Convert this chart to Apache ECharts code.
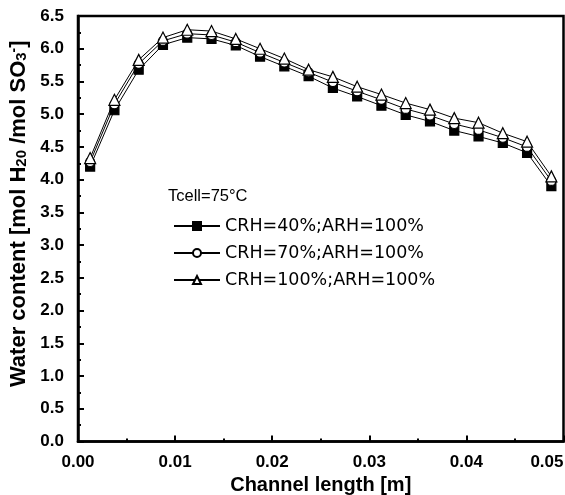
<!DOCTYPE html>
<html>
<head>
<meta charset="utf-8">
<script src="https://cdn.jsdelivr.net/npm/echarts@6/dist/echarts.min.js"></script>
<style>html,body{margin:0;padding:0;background:#fff}#c{width:565px;height:495px}</style>
</head>
<body>
<div id="c"></div>
<script>
const xValues = [0.00125,0.00375,0.00625,0.00875,0.01125,0.01375,0.01625,0.01875,0.02125,0.02375,0.02625,0.02875,0.03125,0.03375,0.03625,0.03875,0.04125,0.04375,0.04625,0.04875];
const crh40 = [4.20,5.06,5.68,6.06,6.17,6.15,6.05,5.88,5.73,5.58,5.40,5.27,5.13,4.99,4.89,4.75,4.66,4.56,4.41,3.90];
const crh70 = [4.27,5.15,5.77,6.12,6.23,6.21,6.10,5.94,5.79,5.64,5.49,5.35,5.22,5.08,4.98,4.85,4.76,4.64,4.50,3.98];
const crh100 = [4.33,5.22,5.83,6.17,6.29,6.27,6.15,6.00,5.85,5.68,5.57,5.42,5.30,5.17,5.07,4.94,4.87,4.71,4.58,4.05];
const seriesNames = ['CRH=40%;ARH=100%','CRH=70%;ARH=100%','CRH=100%;ARH=100%'];
const annotation = 'Tcell=75°C';

const chart = echarts.init(document.getElementById('c'), null, {renderer:'canvas'});
const font = 'Arial, "Liberation Sans", sans-serif';
const font2 = '"DejaVu Sans", sans-serif';
function pts(arr){ return xValues.map((x,i)=>[x,arr[i]]); }
function mk(name, data, symbol, fill, size){
  return {name:name, type:'line', data:pts(data), symbol:symbol, symbolSize:size,
    lineStyle:{color:'#000', width:1}, itemStyle:{color:fill, borderColor:'#000', borderWidth:1.2},
    emphasis:{disabled:true}, animation:false, z: 3};
}
chart.setOption({
  animation:false,
  backgroundColor:'#fff',
  grid:{left:78, right:1.5, top:16, bottom:53.5, containLabel:false, outerBoundsMode:'none',
    show:true, borderColor:'#000', borderWidth:2.5, backgroundColor:'transparent'},
  xAxis:{type:'value', min:0, max:0.05, interval:0.01,
    axisLine:{lineStyle:{color:'#000', width:2.5}},
    axisTick:{inside:true, length:6, lineStyle:{color:'#000', width:2}},
    minorTick:{show:true, splitNumber:2, length:3, lineStyle:{color:'#000', width:2}},
    splitLine:{show:false},
    axisLabel:{color:'#000', fontFamily:font, fontWeight:'bold', fontSize:17, margin:12, alignMaxLabel:'right', formatter:v=>v.toFixed(2)},
    name:'Channel length [m]', nameLocation:'middle', nameGap:34,
    nameTextStyle:{color:'#000', fontFamily:font, fontWeight:'bold', fontSize:20}
  },
  yAxis:{type:'value', min:0, max:6.5, interval:0.5,
    axisLine:{lineStyle:{color:'#000', width:2.5}},
    axisTick:{inside:true, length:6, lineStyle:{color:'#000', width:2}},
    minorTick:{show:true, splitNumber:2, length:3, lineStyle:{color:'#000', width:2}},
    splitLine:{show:false},
    axisLabel:{color:'#000', fontFamily:font, fontWeight:'bold', fontSize:17, margin:14, formatter:v=>v.toFixed(1)},
    name:'Water content [mol H{sub|20} /mol SO{sub|3}{sup|-}]', nameLocation:'middle', nameGap:46,
    nameTextStyle:{color:'#000', fontFamily:font, fontWeight:'bold', fontSize:22, padding:[0,0,0,30],
      rich:{sub:{fontFamily:font, fontWeight:'bold', fontSize:15, color:'#000', verticalAlign:'bottom', padding:[7,0,0,0]},
            sup:{fontFamily:font, fontWeight:'bold', fontSize:14, color:'#000', verticalAlign:'top', padding:[0,0,8,0]}}}
  },
  legend:{orient:'vertical', left:168, top:212, itemWidth:46, itemHeight:10, itemGap:9,
    data:seriesNames, selectedMode:false,
    textStyle:{color:'#000', fontFamily:font2, fontSize:17.5}, inactiveColor:'#000'},
  graphic:[{type:'text', left:168, top:188, style:{text:annotation, fill:'#000', font:'16.5px ' + font}}],
  series:[
    mk(seriesNames[0], crh40, 'rect', '#000', 9),
    mk(seriesNames[1], crh70, 'circle', '#fff', 9),
    mk(seriesNames[2], crh100, 'triangle', '#fff', 11)
  ]
});
</script>
</body>
</html>
